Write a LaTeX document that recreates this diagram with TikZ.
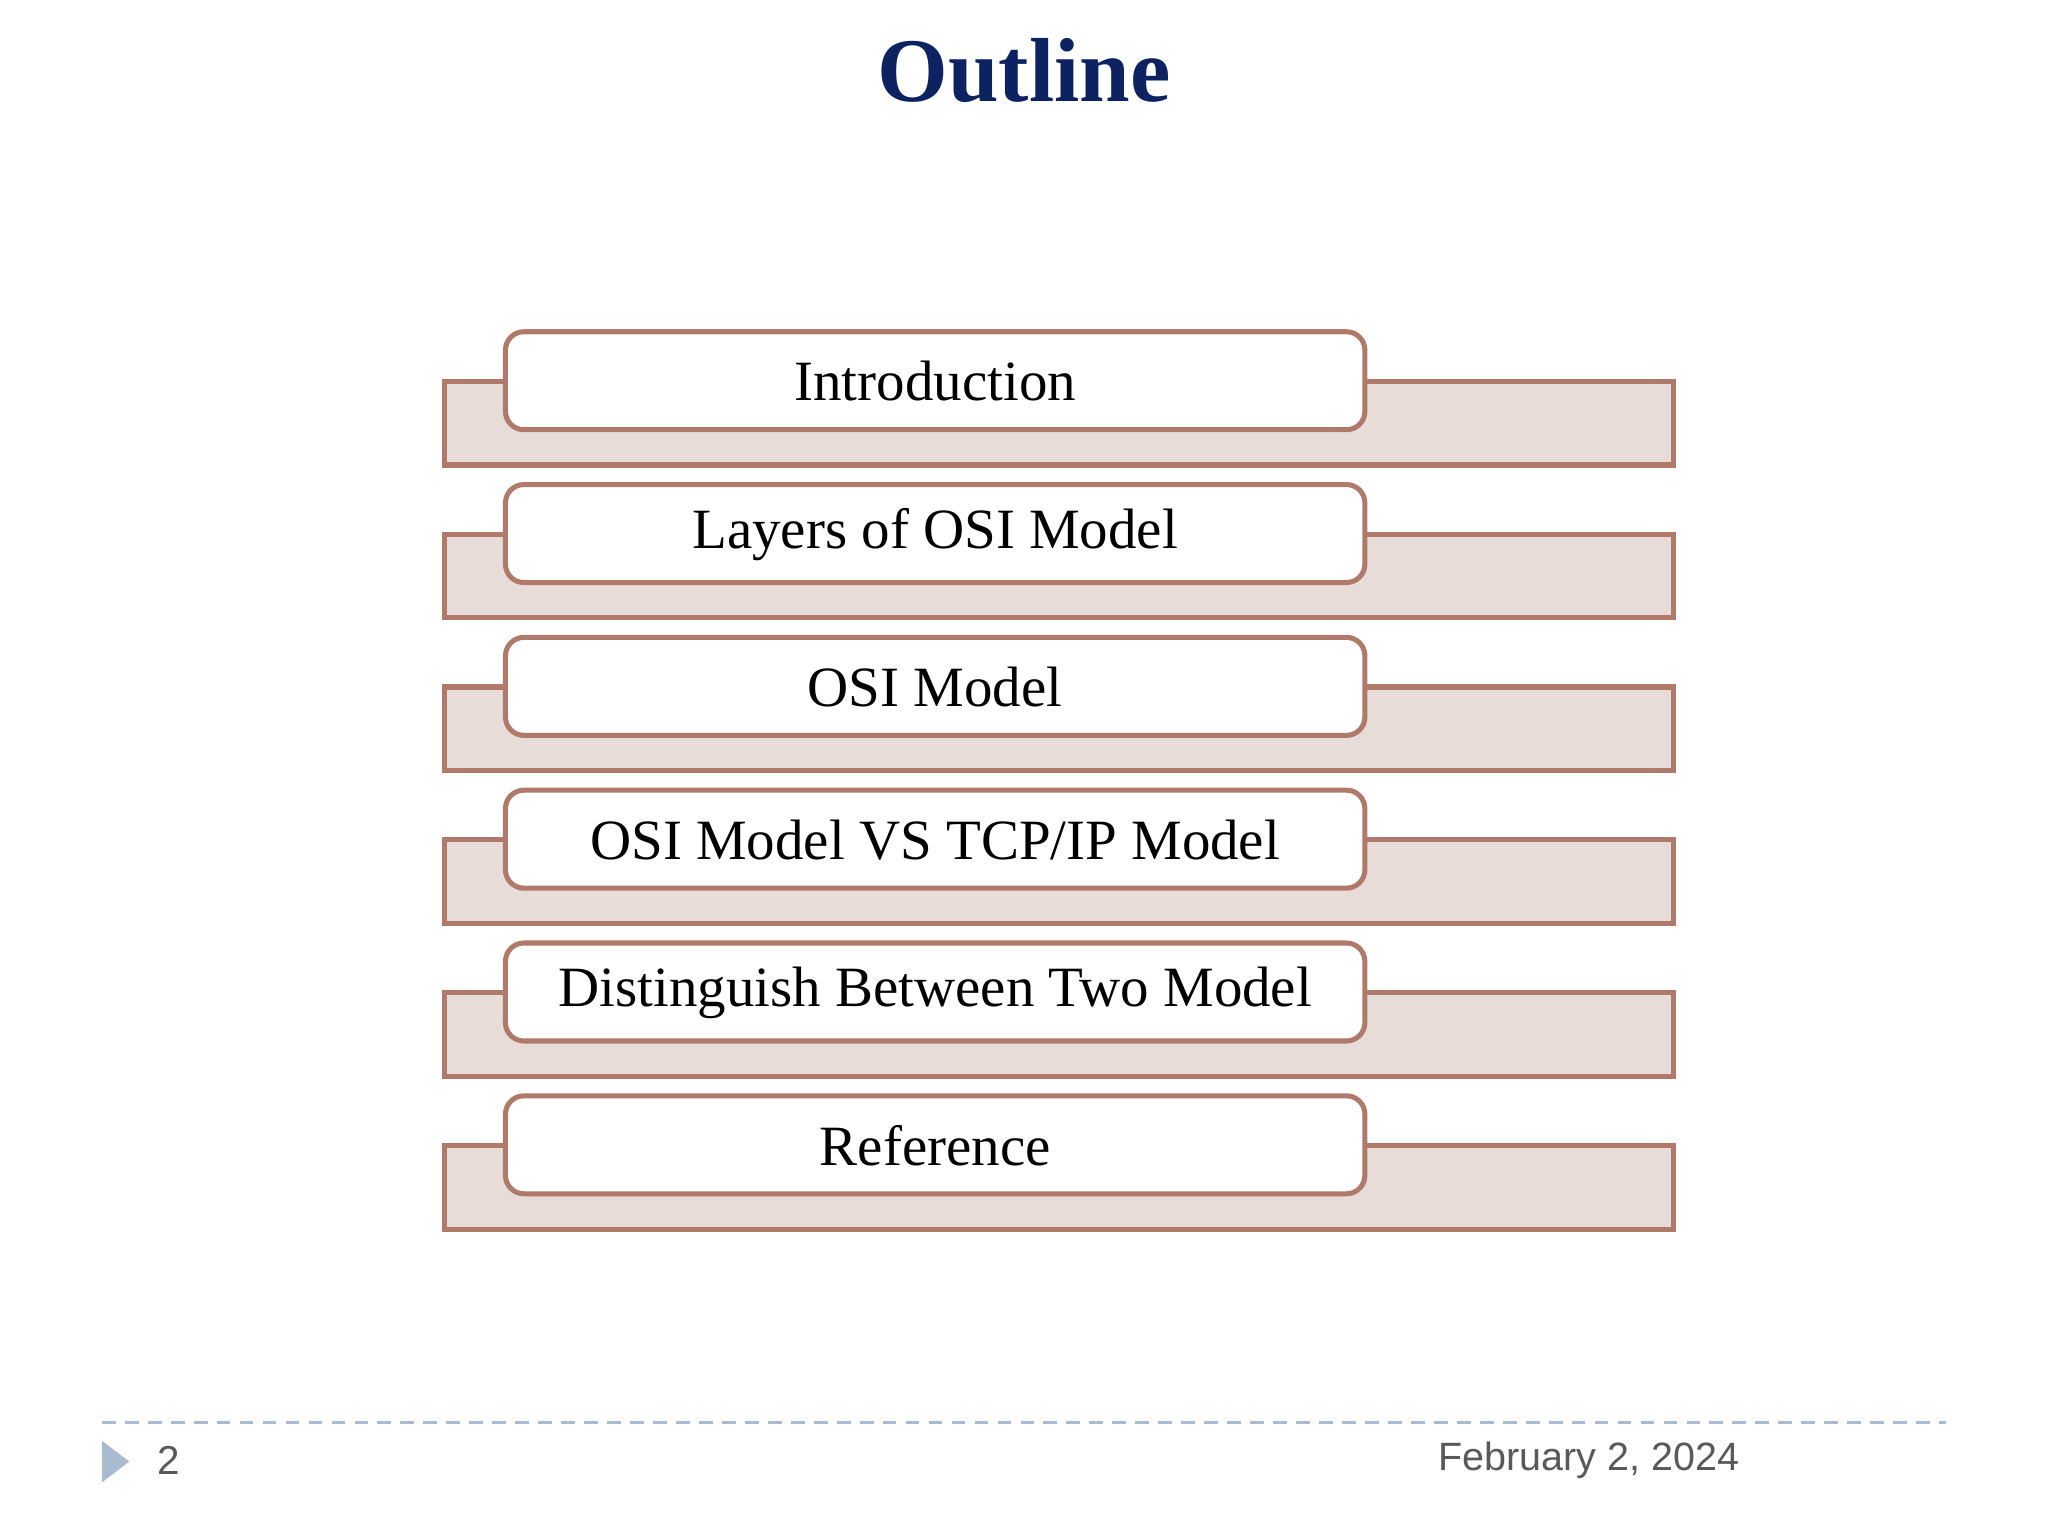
\documentclass[tikz,border=0pt]{standalone}
\usepackage{fontspec}
\setmainfont{Liberation Serif}
\newfontfamily\footfont{Liberation Sans}
\definecolor{bord}{HTML}{B07A6A}
\definecolor{fillc}{HTML}{E8DCD9}
\definecolor{navy}{HTML}{0D2260}
\definecolor{dashc}{HTML}{A9BCCF}
\begin{document}
\begin{tikzpicture}[x=0.01cm,y=-0.01cm,
  back/.style={draw=bord,fill=fillc,line width=1.1pt},
  front/.style={draw=bord,fill=white,line width=1.1pt,rounded corners=4pt},
  lbl/.style={font=\fontsize{12.4}{14}\selectfont,text=black}]
\useasboundingbox (0,0) rectangle (1568,1176);
\node[text=navy,font=\fontsize{19.8}{22}\selectfont\bfseries] (title) at (784,54) {Outline};
\foreach \t [count=\i from 0] in {Introduction,Layers of OSI Model,OSI Model,OSI Model VS TCP/IP Model,Distinguish Between Two Model,Reference}{
  \pgfmathsetmacro{\dy}{117*\i}
  \draw[back] (340,292+\dy) rectangle (1281,356+\dy);
  \draw[front] (387,254+\dy) rectangle (1045,329+\dy);
  \node[lbl] (b\i) at (716,292+\dy) {\t};
}
\coordinate (dl) at (78,1089); \coordinate (dr) at (1490,1089);
\draw[dashc,dash pattern=on 3pt off 2pt,line width=0.5pt] (dl) -- (dr);
\fill[dashc] (78,1103) -- (99,1119) -- (78,1135) -- cycle;
\node[font=\footfont\fontsize{8.8}{10}\selectfont,text=black!65] (pg) at (129,1118) {2};
\node[font=\footfont\fontsize{8.6}{10}\selectfont,text=black!65,anchor=east] (dt) at (1344,1118) {February 2, 2024};
\end{tikzpicture}
\end{document}
